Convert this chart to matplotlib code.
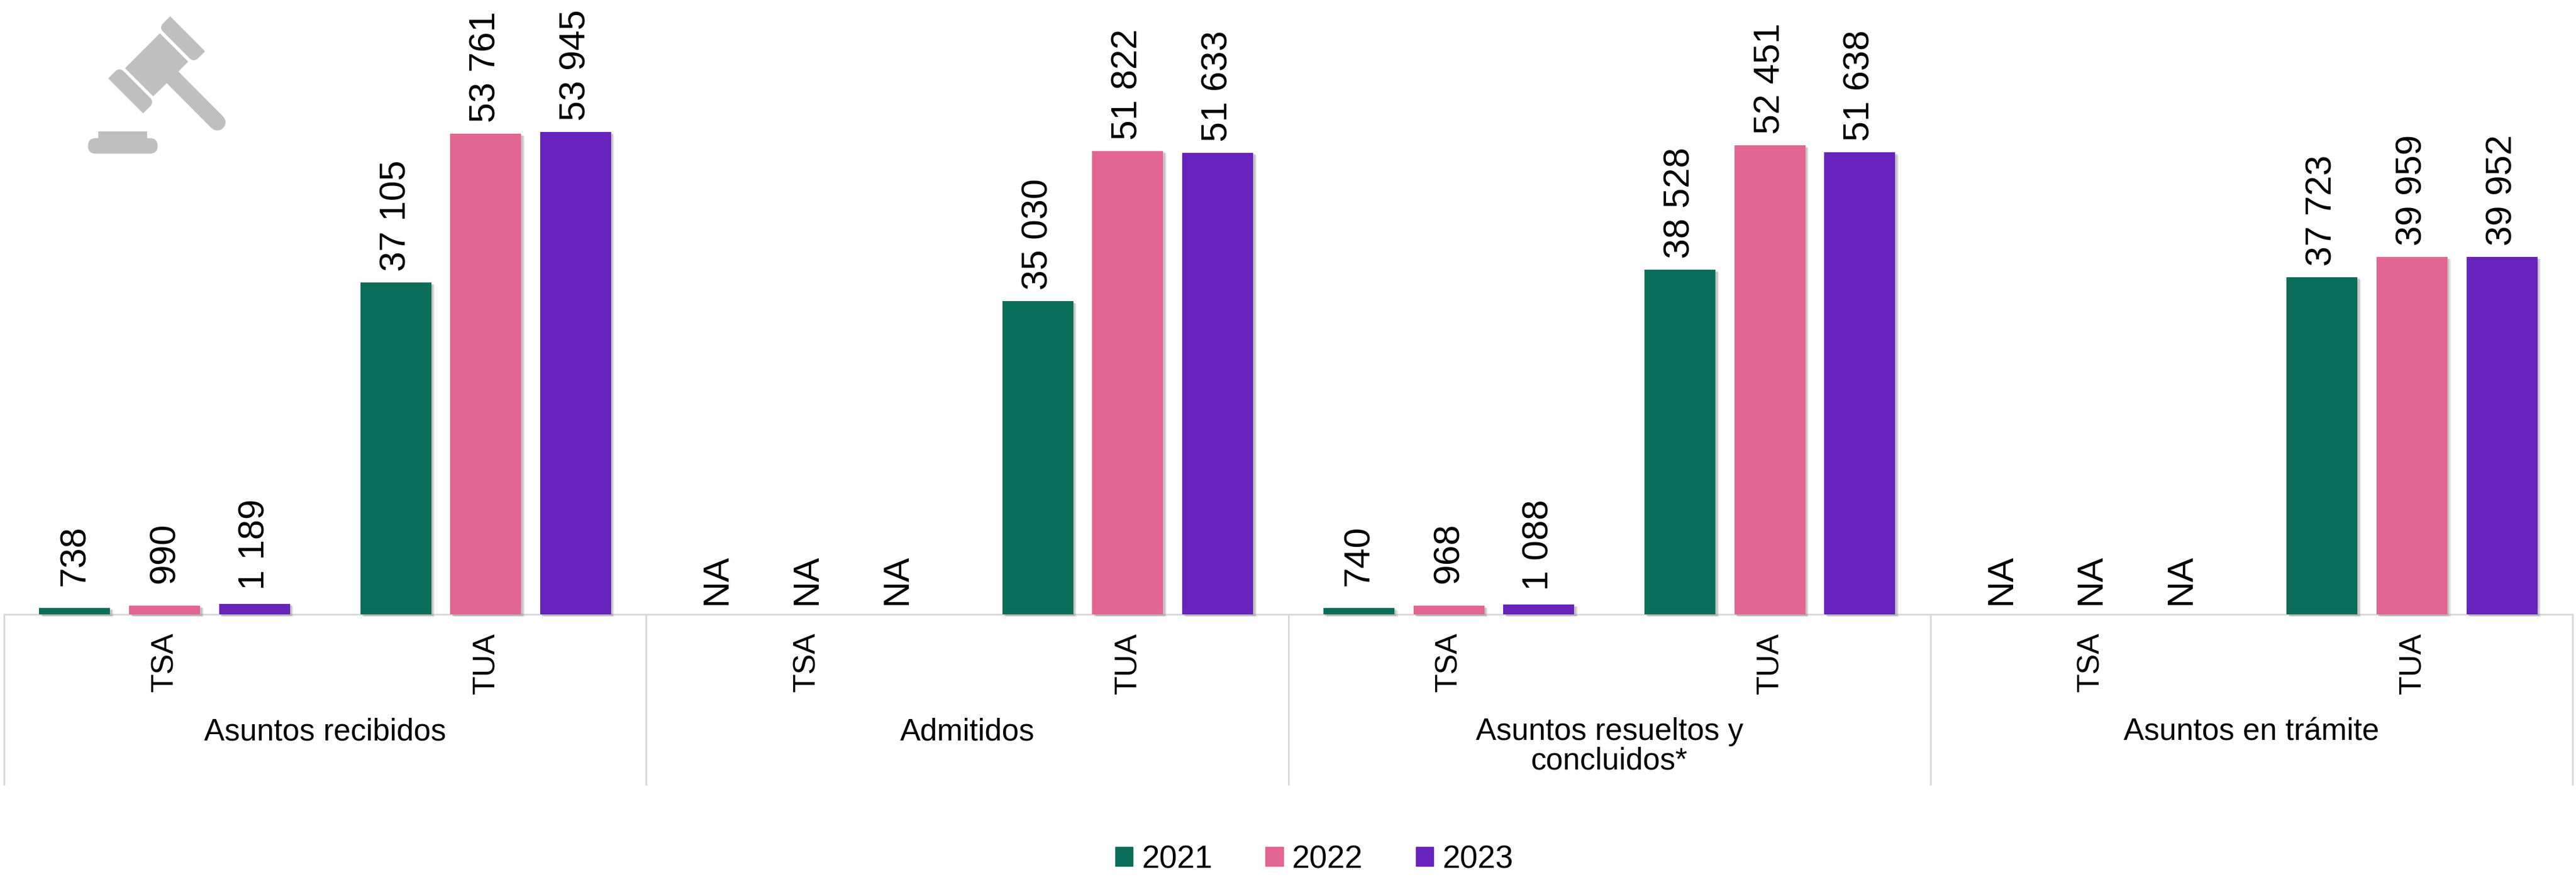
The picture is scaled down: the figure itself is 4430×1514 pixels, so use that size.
import numpy as np
import matplotlib
matplotlib.use('Agg')
import matplotlib.pyplot as plt
import matplotlib.patheffects as pe
from matplotlib.patches import Patch, PathPatch, FancyBboxPatch, Rectangle
from matplotlib.path import Path

# Data, one entry per TSA/TUA column (None = NA)
groups = ['Asuntos recibidos', 'Admitidos', 'Asuntos resueltos y\nconcluidos*', 'Asuntos en trámite']
courts = ['TSA', 'TUA'] * 4
years = ['2021', '2022', '2023']
values_2021 = [738, 37105, None, 35030, 740, 38528, None, 37723]
values_2022 = [990, 53761, None, 51822, 968, 52451, None, 39959]
values_2023 = [1189, 53945, None, 51633, 1088, 51638, None, 39952]
colors = ['#0B6E5B', '#E36591', '#6823BC']

plt.rcParams['font.family'] = ['Liberation Sans', 'DejaVu Sans']

W, H = 4430, 1514
BASE = 1057  # baseline row in pixels
px = 0.72    # one pixel in points at dpi 100

fig = plt.figure(figsize=(W / 100, H / 100), dpi=100)
ax = fig.add_axes([7 / W, 1 - BASE / H, (4424 - 7) / W, BASE / H])
ax.set_xlim(0, 8)
ax.set_ylim(0, BASE / 0.015386)

shadow = [pe.SimplePatchShadow(offset=(4, -3), shadow_rgbFace='#999999', alpha=0.25),
          pe.SimplePatchShadow(offset=(2.5, -2), shadow_rgbFace='#888888', alpha=0.35),
          pe.Normal()]

# gap between bar and label depends on the label length in the original
gap_by_len = {2: 17, 3: 38, 5: 24, 6: 19}

x = np.arange(8) + 0.5
for j, vals in enumerate([values_2021, values_2022, values_2023]):
    xs = x + (j - 1) * 0.28
    for xi, v in zip(xs, vals):
        if v is None:
            label = 'NA'
        else:
            b = ax.bar(xi, v, width=0.221, color=colors[j], clip_on=False, zorder=3)
            b[0].set_path_effects(shadow)
            label = f'{v:,}'.replace(',', ' ')
        ax.annotate(label, (xi, v or 0), xytext=(0, gap_by_len[len(label)] * px),
                    textcoords='offset points', rotation=90, ha='center', va='bottom',
                    fontsize=45, color='black', annotation_clip=False, zorder=4)

# multi level axis
for s in ['top', 'left', 'right']:
    ax.spines[s].set_visible(False)
ax.spines['bottom'].set_color('#D9D9D9')
ax.spines['bottom'].set_linewidth(2.2)
ax.set_yticks([])
ax.set_xticks([0, 2, 4, 6, 8])
ax.set_xticklabels([])
ax.tick_params(axis='x', which='major', length=294 * px, width=2.2, color='#D9D9D9')
ax.set_xticks(x, minor=True)
ax.set_xticklabels(courts, minor=True, rotation=90, fontsize=38, color='black')
ax.tick_params(axis='x', which='minor', length=0, pad=31 * px)

trans = ax.get_xaxis_transform()
for i, g in enumerate(groups):
    ax.text(2 * i + 1, -(1234 - BASE) / BASE, g, transform=trans, ha='center', va='top',
            fontsize=38, color='black', linespacing=1.0, multialignment='center')

# legend
handles = [Patch(color=c, label=y) for c, y in zip(colors, years)]
fig.legend(handles=handles, loc='center', bbox_to_anchor=(2260 / W, 1 - 1479 / H), ncols=3,
           frameon=False, fontsize=39.5, handlelength=0.55, handleheight=0.55,
           handletextpad=0.27, columnspacing=1.67, borderpad=0, borderaxespad=0)

# gavel icon, drawn in a small axes of its own
icon = fig.add_axes([100 / W, 1 - 290 / H, 350 / W, 290 / H])
icon.set_xlim(0, 1050)
icon.set_ylim(870, 0)
icon.axis('off')
grey = '#BFBFBF'
M, L, Q, Z = Path.MOVETO, Path.LINETO, Path.CURVE3, Path.CLOSEPOLY
head = Path([(525, 172), (671, 318), (621, 369), (560, 430), (490, 497), (345, 352), (525, 172)],
            [M, L, L, L, L, L, Z])
upper = Path([(578, 84), (758, 265), (722, 301), (700, 322), (678, 301), (541, 163), (520, 142),
              (541, 121), (578, 84)], [M, L, L, Q, Q, L, Q, Q, Z])
lower = Path([(438, 585), (258, 405), (295, 368), (316, 347), (338, 368), (475, 505), (496, 526),
              (475, 549), (438, 585)], [M, L, L, Q, Q, L, Q, Q, Z])
for p in [head, upper, lower]:
    icon.add_patch(PathPatch(p, facecolor=grey, edgecolor='none'))
icon.plot([590, 821], [399, 631], color=grey, lw=85 / 3 * px, solid_capstyle='round')
icon.add_patch(Rectangle((207, 678), 253, 40, facecolor=grey, edgecolor='none'))
icon.add_patch(FancyBboxPatch((154, 713), 359, 80, boxstyle='round,pad=0,rounding_size=40',
                              facecolor=grey, edgecolor='none'))

fig.savefig('out.png', dpi=100)
